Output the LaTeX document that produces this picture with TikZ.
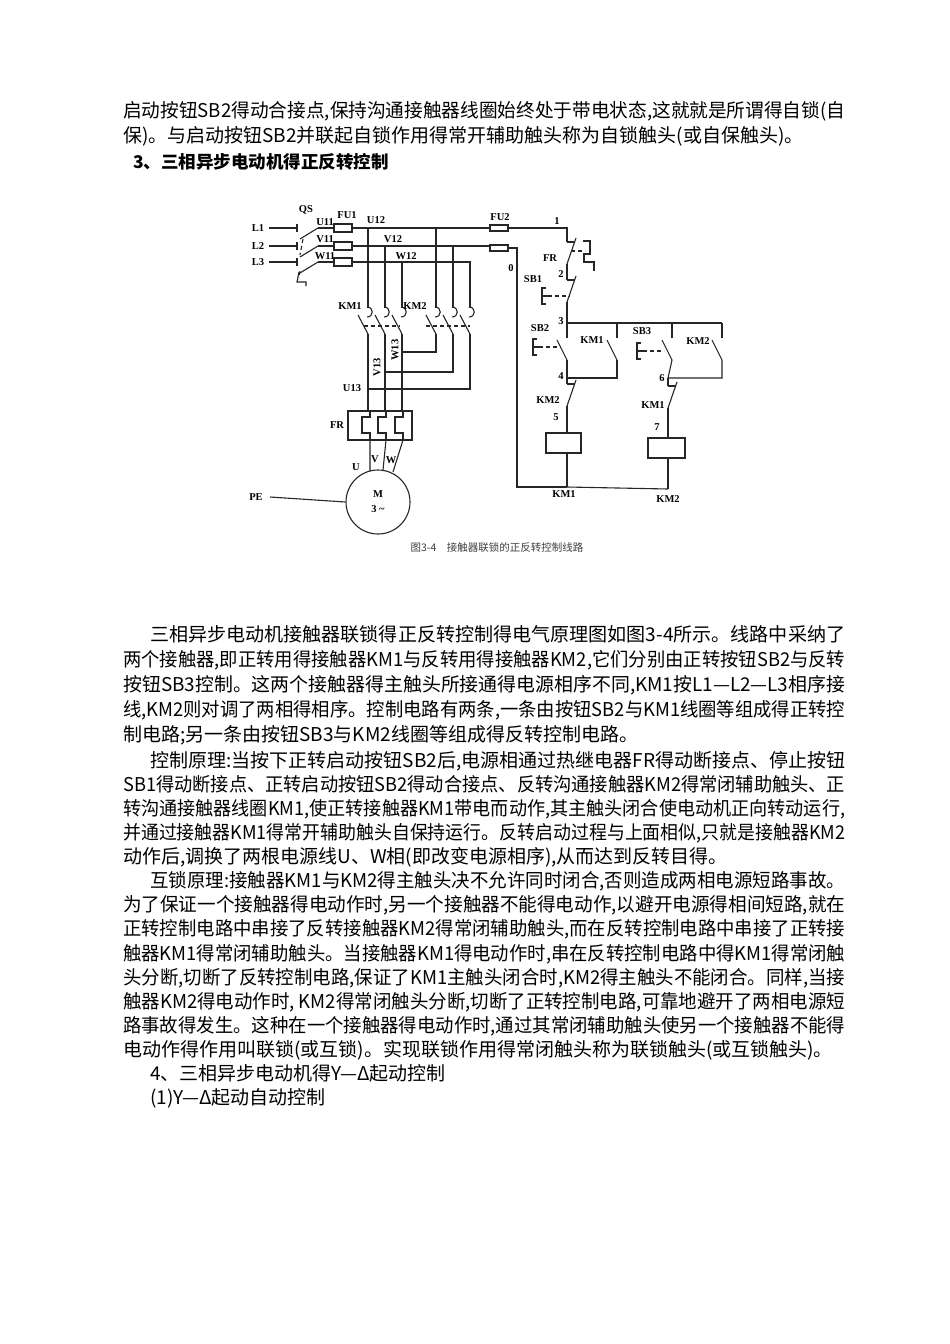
\documentclass[tikz,border=0pt]{standalone}
\usepackage{graphicx}
\usepackage{fontspec}
\newfontfamily\cjk{Noto Sans CJK SC}
\newfontfamily\dg{Liberation Serif}
\tikzset{
  wire/.style={line width=1.1pt,black!85},
  lab/.style={font=\dg\bfseries\fontsize{10.5}{11}\selectfont,inner sep=0pt},
  txt/.style={anchor=base west,inner sep=0pt,font=\cjk\fontsize{19}{20}\selectfont},
  lnk/.style={wire,dash pattern=on 4pt off 3pt},
  pics/mc/.style={code={% main contact, top at (0,0)
    \draw[wire] (-1,-1) .. controls (6,-1) and (6,9) .. (-1,9);
    \draw[wire] (-10,7) -- (0,26);}},
  pics/nc/.style={code={% normally closed, gap 0..22
    \draw[wire] (0,0) -- (7,0);
    \draw[wire] (0,22) -- (9,-4);}},
  pics/no/.style={code={% normally open, gap 0..22
    \draw[wire] (-10,2) -- (0,22);}},
  pics/pb/.style={code={% push button E
    \draw[wire] (4,0) -- (0,0) -- (0,16) -- (4,16) (0,8) -- (6,8);}},
}
\newcommand\jl[1]{\resizebox{722pt}{\height}{#1}}
\newcommand\jf[1]{\resizebox{695pt}{\height}{#1}}
\begin{document}
\begin{tikzpicture}[x=1pt,y=-1pt]
\useasboundingbox[fill=white] (0,0) rectangle (950,1344);
% ---------- text ----------
\node[txt] (t1) at (123,117) {\jl{启动按钮SB2得动合接点,保持沟通接触器线圈始终处于带电状态,这就就是所谓得自锁(自}};
\node[txt] (t2) at (123,142) {保)。与启动按钮SB2并联起自锁作用得常开辅助触头称为自锁触头(或自保触头)。};
\node[txt,font=\cjk\bfseries\fontsize{17.5}{18}\selectfont] (t3) at (133,168) {3、三相异步电动机得正反转控制};
\node[txt] (p1) at (150,641) {\jf{三相异步电动机接触器联锁得正反转控制得电气原理图如图3-4所示。线路中采纳了}};
\node[txt] (p2) at (123,666) {\jl{两个接触器,即正转用得接触器KM1与反转用得接触器KM2,它们分别由正转按钮SB2与反转}};
\node[txt] (p3) at (123,691) {\jl{按钮SB3控制。这两个接触器得主触头所接通得电源相序不同,KM1按L1—L2—L3相序接}};
\node[txt] (p4) at (123,716) {\jl{线,KM2则对调了两相得相序。控制电路有两条,一条由按钮SB2与KM1线圈等组成得正转控}};
\node[txt] (p5) at (123,741) {制电路;另一条由按钮SB3与KM2线圈等组成得反转控制电路。};
\node[txt] (c1) at (150,767) {\jf{控制原理:当按下正转启动按钮SB2后,电源相通过热继电器FR得动断接点、停止按钮}};
\node[txt] (c2) at (123,791) {\jl{SB1得动断接点、正转启动按钮SB2得动合接点、反转沟通接触器KM2得常闭辅助触头、正}};
\node[txt] (c3) at (123,815) {\jl{转沟通接触器线圈KM1,使正转接触器KM1带电而动作,其主触头闭合使电动机正向转动运行,}};
\node[txt] (c4) at (123,839) {\jl{并通过接触器KM1得常开辅助触头自保持运行。反转启动过程与上面相似,只就是接触器KM2}};
\node[txt] (c5) at (123,863) {动作后,调换了两根电源线U、W相(即改变电源相序),从而达到反转目得。};
\node[txt] (h1) at (150,887) {\jf{互锁原理:接触器KM1与KM2得主触头决不允许同时闭合,否则造成两相电源短路事故。}};
\node[txt] (h2) at (123,911) {\jl{为了保证一个接触器得电动作时,另一个接触器不能得电动作,以避开电源得相间短路,就在}};
\node[txt] (h3) at (123,935) {\jl{正转控制电路中串接了反转接触器KM2得常闭辅助触头,而在反转控制电路中串接了正转接}};
\node[txt] (h4) at (123,960) {\jl{触器KM1得常闭辅助触头。当接触器KM1得电动作时,串在反转控制电路中得KM1得常闭触}};
\node[txt] (h5) at (123,984) {\jl{头分断,切断了反转控制电路,保证了KM1主触头闭合时,KM2得主触头不能闭合。同样,当接}};
\node[txt] (h6) at (123,1008) {\jl{触器KM2得电动作时, KM2得常闭触头分断,切断了正转控制电路,可靠地避开了两相电源短}};
\node[txt] (h7) at (123,1032) {\jl{路事故得发生。这种在一个接触器得电动作时,通过其常闭辅助触头使另一个接触器不能得}};
\node[txt] (h8) at (123,1056) {电动作得作用叫联锁(或互锁)。实现联锁作用得常闭触头称为联锁触头(或互锁触头)。};
\node[txt] (s1) at (150,1080) {4、三相异步电动机得Y—Δ起动控制};
\node[txt] (s2) at (150,1104) {(1)Y—Δ起动自动控制};
% ---------- power circuit ----------
\node[lab] (L1) at (258,228) {L1};
\node[lab] (L2) at (258,246) {L2};
\node[lab] (L3) at (258,262) {L3};
\node[lab] (PE) at (256,497) {PE};
\node[lab] (QS) at (306,210) {QS};
\node[lab] (FU1) at (347,215) {FU1};
\node[lab] (U11) at (325,222) {U11};
\node[lab] (V11) at (325,239) {V11};
\node[lab] (W11) at (325,256) {W11};
\node[lab] (U12) at (376,220) {U12};
\node[lab] (V12) at (393,239) {V12};
\node[lab] (W12) at (406,256) {W12};
\foreach \y in {228,246,262}{
  \draw[wire] (269,\y) -- (297,\y) (297,\y-4) -- (297,\y+4);
  \draw[wire] (300,\y+11) -- (318,\y);
}
\draw[lnk] (303,239) -- (300,255) (300,271) -- (299,278);
\draw[wire] (299,272) -- (297,282) -- (306,282) -- (306,286);
% phase lines
\draw[wire] (318,228) -- (490,228);
\draw[wire] (318,246) -- (490,246);
\draw[wire] (318,262) -- (470,262) -- (470,308);
\foreach \y in {228,246,262}{\draw[wire,fill=white] (334,\y-4) rectangle (352,\y+4);}
\draw[wire] (368,228) -- (368,308) (385,246) -- (385,308) (402,262) -- (402,308);
\draw[wire] (436,228) -- (436,308) (453,246) -- (453,308);
\foreach \x in {368,385,402,436,453,470}{\pic at (\x,308) {mc};}
\node[lab] (KM1a) at (350,306) {KM1};
\node[lab] (KM2a) at (415,306) {KM2};
\draw[lnk] (364,326) -- (400,326) (426,326) -- (470,326);
% outputs
\draw[wire] (368,334) -- (368,411) (385,334) -- (385,411) (402,334) -- (402,411);
\draw[wire] (436,334) -- (436,352) -- (402,352);
\draw[wire] (453,334) -- (453,372) -- (385,372);
\draw[wire] (470,334) -- (470,389) -- (368,389);
\node[lab] (U13) at (352,388) {U13};
\node[lab,rotate=90] (V13) at (377,367) {V13};
\node[lab,rotate=90] (W13) at (395,350) {W13};
% FR
\draw[wire] (348,411) rectangle (412,440);
\node[lab] (FRp) at (337,425) {FR};
\foreach \x in {370,386,403}{\draw[wire,fill=white] (\x,411) -- (\x,417) -- (\x-8,417) -- (\x-8,433) -- (\x,433) -- (\x,440);}
% motor
\node[draw,wire,circle,minimum size=64pt,inner sep=0pt] (M) at (378,502) {};
\node[lab] (Mt) at (378,494) {M};
\node[lab] (Mn) at (378,509) {3 \textasciitilde};
\draw[wire] (370,440) -- (370,471) (386,440) -- (383,470) (403,440) -- (393,472);
\node[lab] (Ul) at (356,467) {U};
\node[lab] (Vl) at (375,459) {V};
\node[lab] (Wl) at (391,460) {W};
\draw[wire] (270,497) -- (M.west);
% ---------- control circuit ----------
\node[lab] (FU2) at (500,217) {FU2};
\foreach \y in {228,248}{\draw[wire,fill=white] (490,\y-3) rectangle (508,\y+3);}
\draw[wire] (508,228) -- (567,228) -- (567,242);
\node[lab] (n1) at (557,221) {1};
\draw[wire] (508,248) -- (517,248) -- (517,487) -- (567,487);
\draw[wire] (567,487) -- (668,489);
\node[lab] (n0) at (511,268) {0};
\pic at (567,242) {nc};
\draw[lnk] (571,251) -- (585,251);
\draw[wire] (583,241) -- (590,241) -- (590,254) -- (584,254) -- (584,262) -- (594,262) -- (594,271);
\node[lab] (FRc) at (550,258) {FR};
\node[lab] (n2) at (561,274) {2};
\draw[wire] (567,264) -- (567,280);
\pic at (567,280) {nc};
\pic at (542,288) {pb};
\draw[lnk] (548,296) -- (570,296);
\node[lab] (SB1) at (533,279) {SB1};
\draw[wire] (567,302) -- (567,338);
\draw[wire] (567,323) -- (722,323);
\node[lab] (n3) at (561,321) {3};
\draw[wire] (617,323) -- (617,338) (672,323) -- (672,338) (722,323) -- (722,338);
% forward branch
\pic at (567,338) {no};
\pic at (533,339) {pb};
\draw[lnk] (539,347) -- (561,347);
\node[lab] (SB2) at (540,328) {SB2};
\pic at (617,338) {no};
\node[lab] (KM1h) at (592,340) {KM1};
\draw[wire] (567,360) -- (567,384) (617,360) -- (617,378) -- (567,378);
\node[lab] (n4) at (561,376) {4};
\pic at (567,384) {nc};
\node[lab] (KM2i) at (548,400) {KM2};
\draw[wire] (567,406) -- (567,433);
\node[lab] (n5) at (556,417) {5};
\draw[wire,fill=white] (546,433) rectangle (581,453);
\draw[wire] (567,453) -- (567,487);
\node[lab] (KM1c) at (564,494) {KM1};
% reverse branch
\pic at (672,338) {no};
\pic at (637,343) {pb};
\draw[lnk] (643,351) -- (664,351);
\node[lab] (SB3) at (642,331) {SB3};
\pic at (722,338) {no};
\node[lab] (KM2h) at (698,341) {KM2};
\draw[wire] (672,360) -- (668,378) (722,360) -- (722,378) -- (668,378);
\node[lab] (n6) at (662,378) {6};
\draw[wire] (668,378) -- (668,386);
\pic at (668,386) {nc};
\node[lab] (KM1i) at (653,405) {KM1};
\draw[wire] (668,408) -- (668,438);
\node[lab] (n7) at (657,427) {7};
\draw[wire,fill=white] (648,438) rectangle (685,458);
\draw[wire] (668,458) -- (668,489);
\node[lab] (KM2c) at (668,499) {KM2};
\node[font=\cjk\fontsize{10.5}{11}\selectfont,text=black!75] (cap) at (497,548) {图3-4\quad 接触器联锁的正反转控制线路};
\end{tikzpicture}
\end{document}
